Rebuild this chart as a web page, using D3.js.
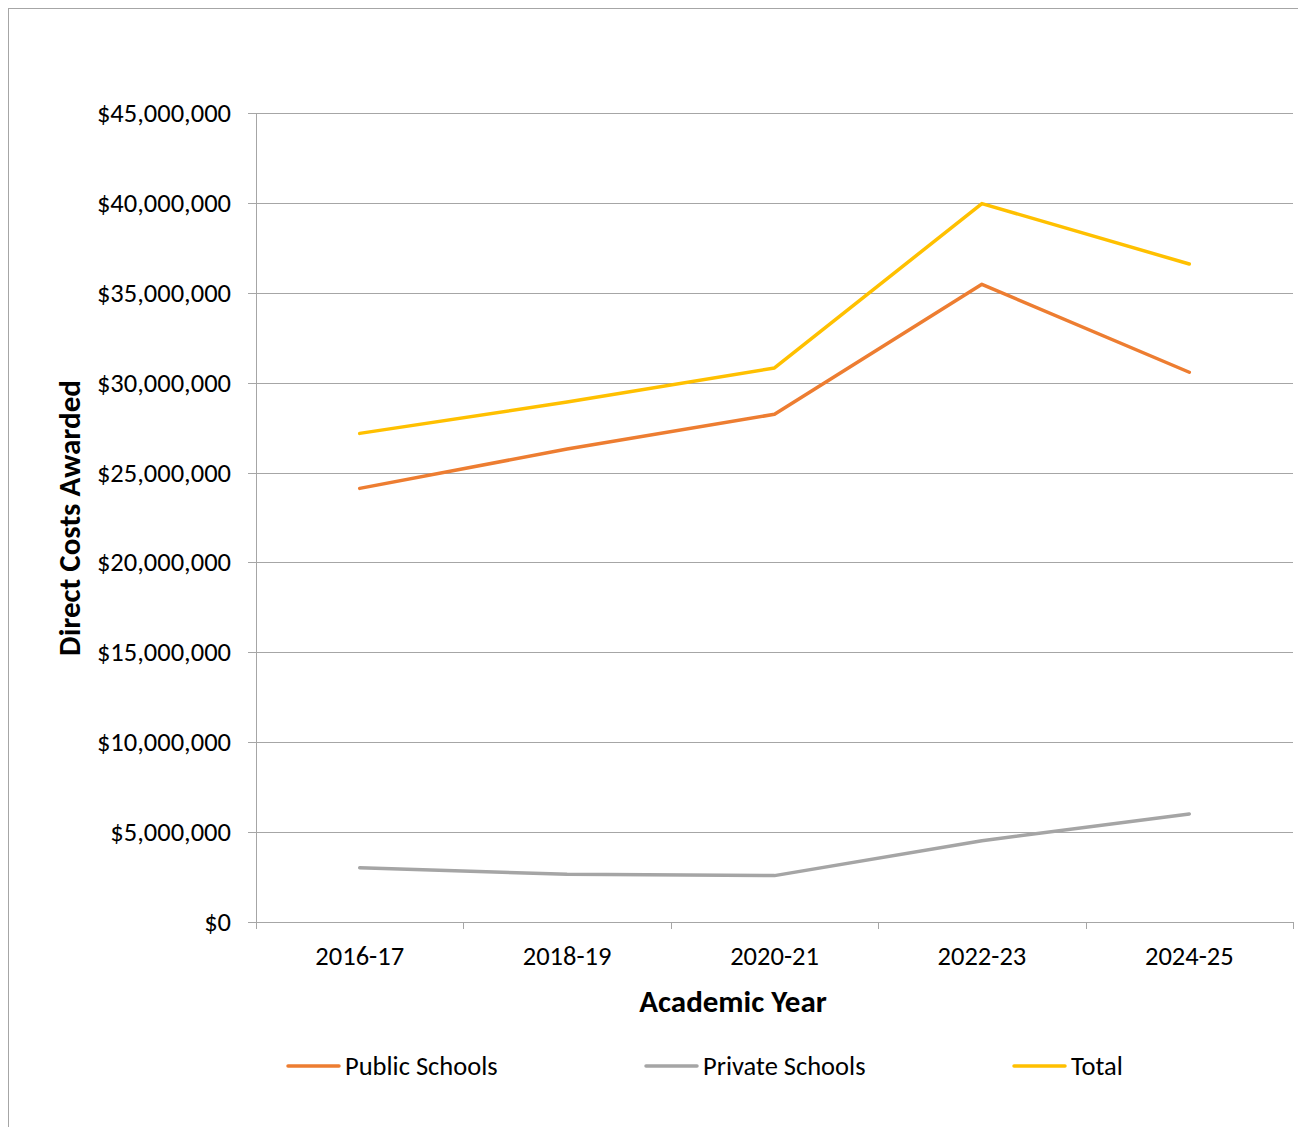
<!DOCTYPE html>
<html lang="en">
<head>
<meta charset="UTF-8">
<title>Direct Costs Awarded</title>
<script src="https://cdn.jsdelivr.net/npm/d3@7"></script>
<style>
    body { margin: 0; background: #fff; }
    svg { font-family: Carlito, Calibri, Lato, sans-serif; }
    .grid line { stroke: #a6a6a6; stroke-width: 1; shape-rendering: crispEdges; }
    .axis path, .axis line { stroke: #a6a6a6; shape-rendering: crispEdges; }
    .axis text { font-family: Carlito, Calibri, Lato, sans-serif; font-size: 26.5px; fill: #000; }
</style>
</head>
<body>
<svg id="chart"></svg>
<script>
// data
var years = ["2016-17", "2018-19", "2020-21", "2022-23", "2024-25"]
var publicSchools = [24120000, 26310000, 28240000, 35470000, 30580000]
var privateSchools = [3020000, 2650000, 2580000, 4520000, 6010000]
var total = [27180000, 28920000, 30820000, 39960000, 36600000]
var yTicks = [0, 5000000, 10000000, 15000000, 20000000, 25000000, 30000000, 35000000, 40000000, 45000000]
var seriesNames = ["Public Schools", "Private Schools", "Total"]
var seriesColors = ["#ED7D31", "#A5A5A5", "#FFC000"]

var W = 1298, H = 1127
var plotLeft = 256, plotRight = 1293, plotTop = 113, plotBottom = 922

var svg = d3.select("#chart").attr("width", W).attr("height", H)

// outer frame
svg.append("rect")
    .attr("x", 8.5).attr("y", 8.5)
    .attr("width", W).attr("height", H)
    .attr("fill", "none").attr("stroke", "#a6a6a6")

var xScale = d3.scaleBand().domain(years).range([plotLeft, plotRight])
var yScale = d3.scaleLinear().domain([0, 45000000]).range([plotBottom, plotTop])

// gridlines
svg.append("g").attr("class", "grid")
    .selectAll("line").data(yTicks).enter().append("line")
    .attr("x1", plotLeft - 8).attr("x2", plotRight)
    .attr("y1", function (d) { return Math.round(yScale(d)) + 0.5 })
    .attr("y2", function (d) { return Math.round(yScale(d)) + 0.5 })

// y axis
var yAxis = d3.axisLeft(yScale).tickValues(yTicks).tickSize(8).tickPadding(17)
    .tickFormat(function (d) { return "$" + d3.format(",")(d) })
var gy = svg.append("g").attr("class", "axis").attr("transform", "translate(" + plotLeft + ",0)").call(yAxis)
gy.select(".domain").remove()
gy.append("line").attr("x1", 0.5).attr("x2", 0.5).attr("y1", plotTop).attr("y2", plotBottom + 7)

// x axis
var xAxis = d3.axisBottom(xScale).tickSize(0).tickPadding(24)
var gx = svg.append("g").attr("class", "axis").attr("transform", "translate(0," + plotBottom + ")").call(xAxis)
gx.select(".domain").remove()
gx.selectAll(".xt").data(d3.range(years.length + 1)).enter().append("line")
    .attr("class", "xt")
    .attr("x1", function (i) { return Math.round(plotLeft + i * xScale.step()) + 0.5 })
    .attr("x2", function (i) { return Math.round(plotLeft + i * xScale.step()) + 0.5 })
    .attr("y1", 0).attr("y2", 7)

// lines
var allSeries = [publicSchools, privateSchools, total]
var line = d3.line()
    .x(function (d, i) { return xScale(years[i]) + xScale.bandwidth() / 2 })
    .y(function (d) { return yScale(d) })

svg.selectAll(".series").data(allSeries).enter().append("path")
    .attr("class", "series")
    .attr("d", line)
    .attr("fill", "none")
    .attr("stroke", function (d, i) { return seriesColors[i] })
    .attr("stroke-width", 3.5)
    .attr("stroke-linecap", "round")
    .attr("stroke-linejoin", "round")

// axis titles
svg.append("text")
    .attr("x", 733).attr("y", 1012)
    .attr("text-anchor", "middle")
    .attr("font-size", 31).attr("font-weight", "bold")
    .text("Academic Year")

svg.append("text")
    .attr("transform", "translate(80,518) rotate(-90)")
    .attr("text-anchor", "middle")
    .attr("font-size", 31).attr("font-weight", "bold")
    .text("Direct Costs Awarded")

// legend
var legendX = [288, 646, 1014]
var lg = svg.selectAll(".legend").data(seriesNames).enter().append("g")
    .attr("class", "legend")
    .attr("transform", function (d, i) { return "translate(" + legendX[i] + ",1066)" })
lg.append("line")
    .attr("x1", 0).attr("x2", 51)
    .attr("stroke", function (d, i) { return seriesColors[i] })
    .attr("stroke-width", 3.5).attr("stroke-linecap", "round")
lg.append("text")
    .attr("x", 57).attr("y", 9)
    .attr("font-size", 26.5)
    .text(function (d) { return d })
</script>
</body>
</html>
